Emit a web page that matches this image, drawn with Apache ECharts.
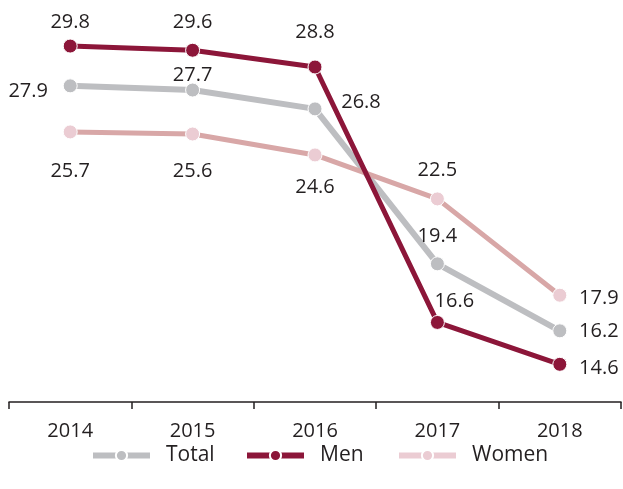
<!DOCTYPE html>
<html>
<head>
<meta charset="utf-8">
<script src="https://cdn.jsdelivr.net/npm/echarts@6/dist/echarts.min.js"></script>
<style>
  html, body { margin: 0; padding: 0; background: #fff; }
  #chart { width: 623px; height: 489px; }
</style>
</head>
<body>
<div id="chart"></div>
<script>
// Rates by year
const years = ['2014', '2015', '2016', '2017', '2018'];
const total = [27.9, 27.7, 26.8, 19.4, 16.2];
const men = [29.8, 29.6, 28.8, 16.6, 14.6];
const women = [25.7, 25.6, 24.6, 22.5, 17.9];
const seriesNames = ['Total', 'Men', 'Women'];

// Label placement per point: [dx, dy] from the marker centre
const totalLabelOffsets = [[-42, 5], [0, -15], [46, -7], [0, -28], [39, 0]];
const menLabelOffsets = [[0, -24], [0, -28], [0, -35], [17, -21], [39, 4]];
const womenLabelOffsets = [[0, 39], [0, 37], [0, 32], [0, -29], [39, 3]];

const FONT = 'Open Sans';
const TEXT = '#231f20';
const C_TOTAL = '#bdbec1';
const C_MEN = '#8c1639';
const C_WOMEN_LINE = '#d8a7a7';
const C_WOMEN_DOT = '#ebccd3';

function points(values, offsets) {
  return values.map((v, i) => ({
    value: v,
    label: { offset: offsets[i] }
  }));
}

function labelStyle() {
  return {
    show: true,
    position: 'inside',
    align: 'center',
    verticalAlign: 'middle',
    color: TEXT,
    fontFamily: FONT,
    fontSize: 20,
    textBorderWidth: 0,
    formatter: p => p.value.toFixed(1)
  };
}

// One legend block per series, evenly spaced along the bottom
const legendLefts = [90, 244, 396];
const legendItemStyles = [
  {},
  {},
  { itemStyle: { color: C_WOMEN_DOT }, lineStyle: { color: C_WOMEN_DOT, width: 6 } }
];
const legends = seriesNames.map((name, i) => ({
  left: legendLefts[i],
  bottom: 23,
  padding: 0,
  itemWidth: 57,
  itemHeight: 14,
  textStyle: { color: TEXT, fontFamily: FONT, fontSize: 21, padding: [0, 0, 0, 11] },
  data: [Object.assign({ name: name, lineStyle: { width: 6 } }, legendItemStyles[i])]
}));

const chart = echarts.init(document.getElementById('chart'), null, { renderer: 'canvas' });

chart.setOption({
  animation: false,
  backgroundColor: '#fff',
  grid: { left: 9, right: 2, top: 0, bottom: 87 },
  xAxis: {
    type: 'category',
    data: years,
    boundaryGap: true,
    axisLine: { lineStyle: { color: '#231f20', width: 1.5 } },
    axisTick: { show: true, length: 7, lineStyle: { color: '#231f20', width: 1.5 } },
    axisLabel: { color: TEXT, fontFamily: FONT, fontSize: 20, margin: 19 }
  },
  yAxis: {
    type: 'value',
    min: 12.8,
    max: 32,
    show: false
  },
  legend: legends,
  series: [
    {
      name: 'Total',
      type: 'line',
      data: points(total, totalLabelOffsets),
      symbol: 'circle',
      symbolSize: 14,
      lineStyle: { color: C_TOTAL, width: 6 },
      itemStyle: { color: C_TOTAL, borderColor: '#fff', borderWidth: 1 },
      label: labelStyle(),
      z: 2
    },
    {
      name: 'Women',
      type: 'line',
      data: points(women, womenLabelOffsets),
      symbol: 'circle',
      symbolSize: 14,
      lineStyle: { color: C_WOMEN_LINE, width: 5 },
      itemStyle: { color: C_WOMEN_DOT, borderColor: '#fff', borderWidth: 1 },
      label: labelStyle(),
      z: 3
    },
    {
      name: 'Men',
      type: 'line',
      data: points(men, menLabelOffsets),
      symbol: 'circle',
      symbolSize: 14,
      lineStyle: { color: C_MEN, width: 5 },
      itemStyle: { color: C_MEN, borderColor: '#fff', borderWidth: 1 },
      label: labelStyle(),
      z: 4
    }
  ]
});
</script>
</body>
</html>
